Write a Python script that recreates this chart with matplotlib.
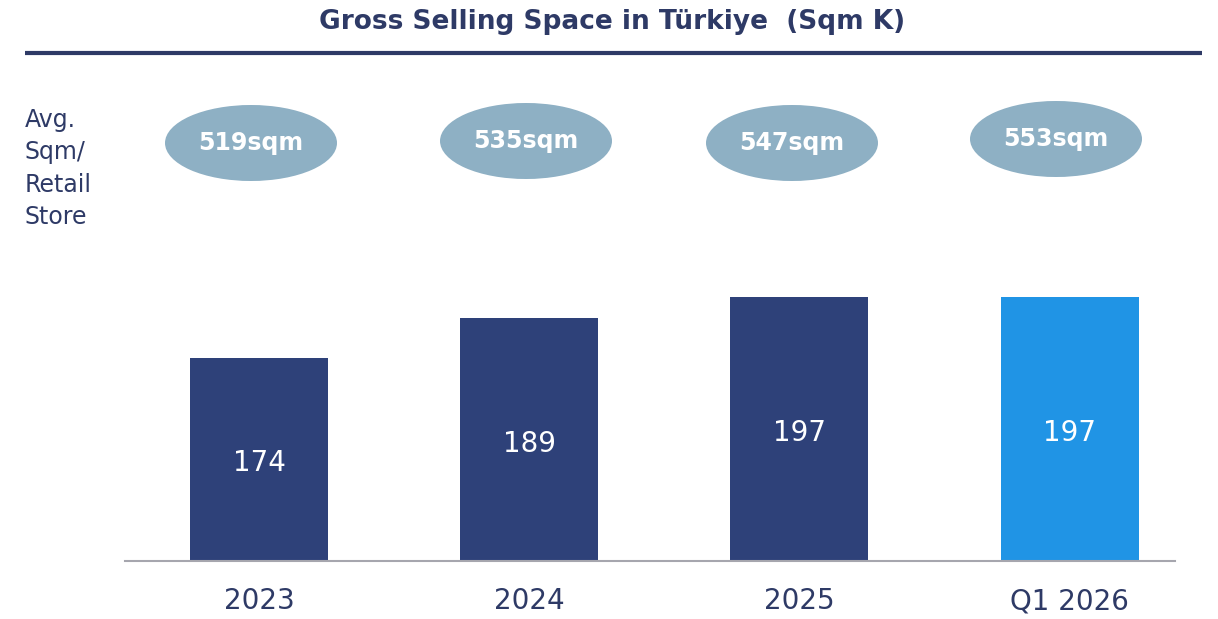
import matplotlib.pyplot as plt
from matplotlib.patches import Ellipse

# data
categories = ["2023", "2024", "2025", "Q1 2026"]
space_k = [174, 189, 197, 197]
avg_sqm = [519, 535, 547, 553]

# styling
navy = "#2E3A66"
bar_navy = "#2E4179"
bar_blue = "#2094E5"
oval_col = "#8EB0C4"
bar_colors = [bar_navy, bar_navy, bar_navy, bar_blue]
font = "DejaVu Sans"

W, H = 1218, 619
fig = plt.figure(figsize=(W / 100, H / 100), dpi=100)

# overlay axes in pixel coordinates for title, rule, ovals
ov = fig.add_axes([0, 0, 1, 1])
ov.set_xlim(0, W)
ov.set_ylim(H, 0)
ov.axis("off")

ov.text(612, 22, "Gross Selling Space in Türkiye  (Sqm K)", ha="center", va="center",
        fontsize=19, fontweight="bold", color=navy, family=font)
ov.plot([25, 1202], [53, 53], color=navy, lw=3, solid_capstyle="butt")

ov.text(25, 108, "Avg.\nSqm/\nRetail\nStore", ha="left", va="top", fontsize=17,
        color=navy, family=font, linespacing=1.44)

oval_x = [251, 526, 792, 1056]
oval_y = [143, 141, 143, 139]
for x, y, v in zip(oval_x, oval_y, avg_sqm):
    ov.add_patch(Ellipse((x, y), 172, 76, color=oval_col, lw=0))
    ov.text(x, y, f"{v}sqm", ha="center", va="center", fontsize=17,
            fontweight="bold", color="white", family=font)

# bar axes
ax = fig.add_axes([125 / W, 58 / H, 1050 / W, 281 / H])
pos = list(range(len(categories)))
bars = ax.bar(pos, space_k, width=0.511, color=bar_colors)
ax.set_xlim(-0.496, 3.39)
ax.set_ylim(97.4, 203.4)
ax.set_facecolor("none")

for b, v in zip(bars, space_k):
    ax.text(b.get_x() + b.get_width() / 2, (97.4 + v) / 2 - 1.5, str(v), ha="center",
            va="center", fontsize=20, color="white", family=font)

ax.set_xticks(pos)
ax.set_xticklabels(categories, fontsize=20, color=navy, family=font)
ax.tick_params(axis="x", length=0, pad=19)
ax.set_yticks([])
for s in ["top", "left", "right"]:
    ax.spines[s].set_visible(False)
ax.spines["bottom"].set_color("#A6A6AE")
ax.spines["bottom"].set_linewidth(1.5)

fig.savefig("out.png", dpi=100)
